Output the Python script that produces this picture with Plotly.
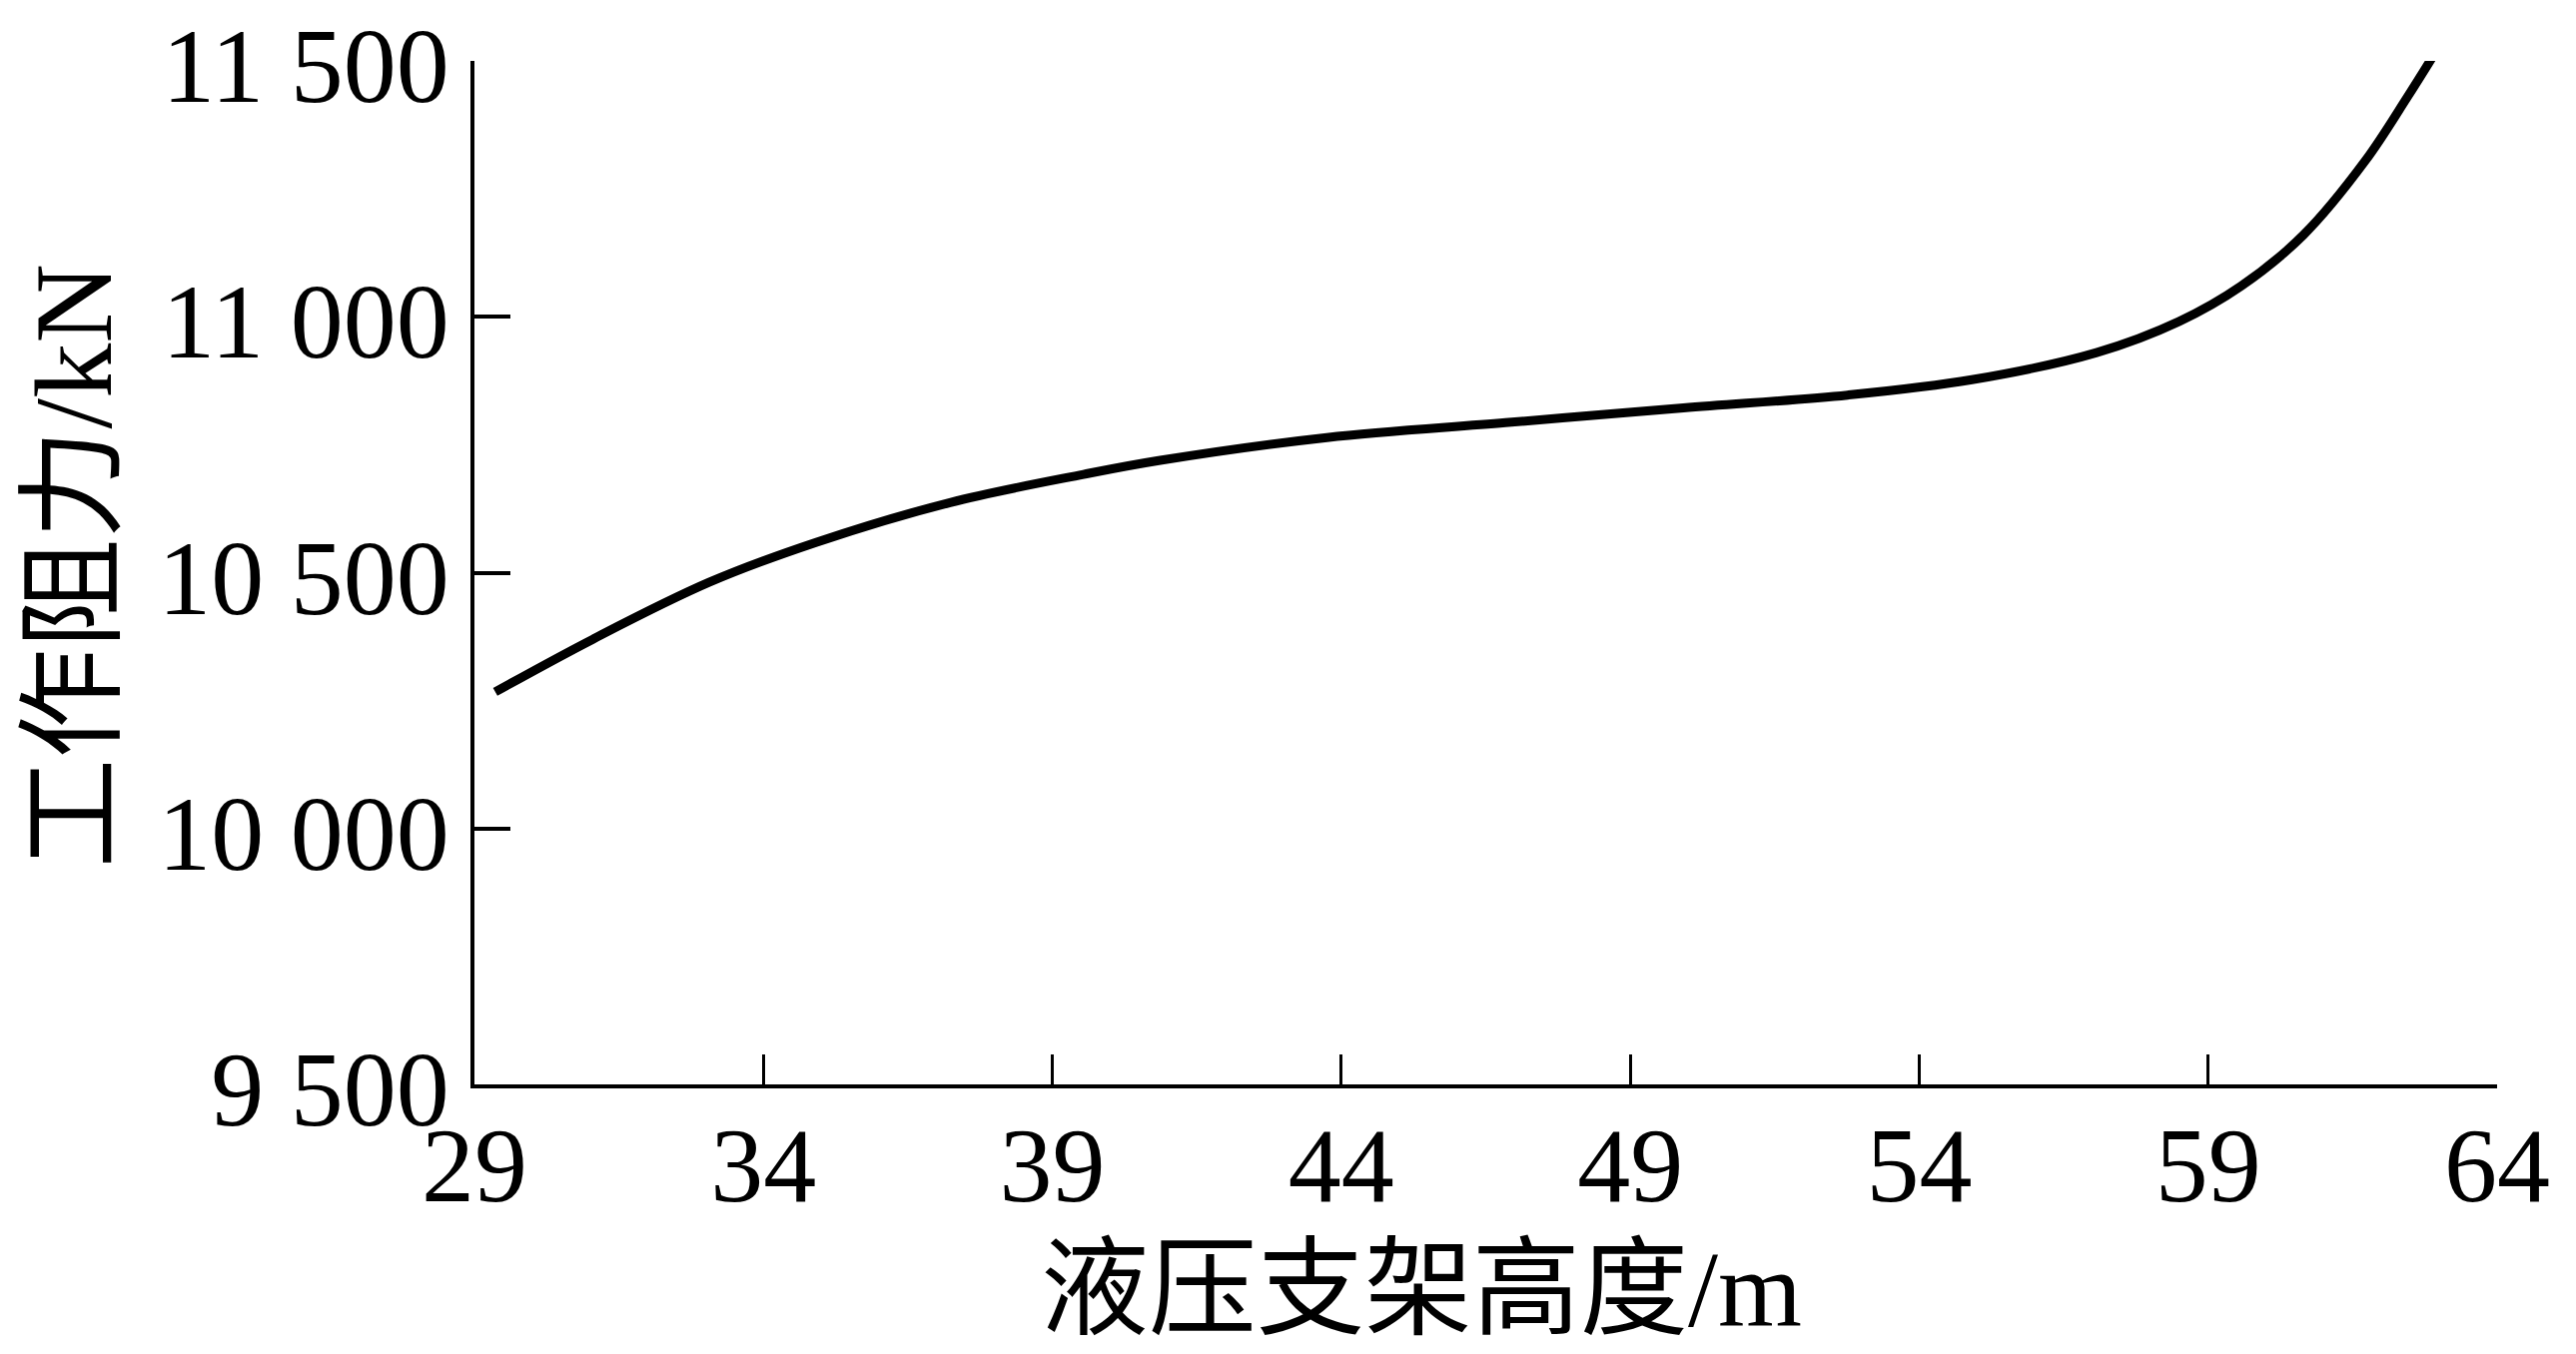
import plotly.graph_objects as go

# support height (m) vs working resistance (kN)
height_m = [29.36, 31.05, 33.06, 34.91, 37.23, 39.54, 40.84, 43.75, 46.84, 49.92,
            52.76, 54.91, 57.07, 58.5, 59.57, 60.65, 61.72, 62.44, 63.0]
resistance_kn = [10267, 10370, 10481, 10559, 10637, 10692, 10719, 10764, 10793, 10822,
                 10847, 10877, 10930, 10991, 11060, 11160, 11305, 11428, 11529]

x_ticks = [29, 34, 39, 44, 49, 54, 59, 64]
y_ticks = [9500, 10000, 10500, 11000, 11500]
y_tick_labels = ["9 500", "10 000", "10 500", "11 000", "11 500"]

FONT = "Liberation Serif, Times New Roman, Noto Sans CJK SC"

fig = go.Figure()

fig.add_trace(go.Scatter(
    x=height_m,
    y=resistance_kn,
    mode='lines',
    line=dict(color='black', width=9, shape='spline', smoothing=1.0),
    showlegend=False
))

fig.update_layout(
    width=2579,
    height=1356,
    margin=dict(l=467, r=87, t=53, b=278),
    paper_bgcolor='white',
    plot_bgcolor='white',
    font=dict(family=FONT, color='black', size=106),
    showlegend=False,
    annotations=[
        dict(
            text="液压支架高度/m",
            xref='paper', yref='paper',
            x=0.468, y=-0.2,
            xanchor='center', yanchor='middle',
            showarrow=False,
            font=dict(family=FONT, size=108, color='black')
        ),
        dict(
            text="工作阻力/kN",
            xref='paper', yref='paper',
            x=-0.198, y=0.506,
            xanchor='center', yanchor='middle',
            textangle=-90,
            showarrow=False,
            font=dict(family=FONT, size=110, color='black')
        ),
    ]
)

fig.update_xaxes(
    range=[29, 64],
    tickvals=x_ticks,
    ticks='inside',
    ticklen=30,
    tickwidth=3,
    tickcolor='black',
    showline=True,
    linecolor='black',
    linewidth=4,
    showgrid=False,
    zeroline=False,
    automargin=False,
    ticklabeloverflow='allow',
    ticklabelstandoff=-14,
    tickfont=dict(family=FONT, size=106),
)

fig.update_yaxes(
    range=[9500, 11500],
    tickvals=y_ticks,
    ticktext=y_tick_labels,
    ticks='inside',
    ticklen=36,
    tickwidth=4,
    tickcolor='black',
    showline=True,
    linecolor='black',
    linewidth=4,
    showgrid=False,
    zeroline=False,
    automargin=False,
    ticklabeloverflow='allow',
    ticklabelshift=4,
    tickfont=dict(family=FONT, size=106),
)

fig.write_html("out.html")
